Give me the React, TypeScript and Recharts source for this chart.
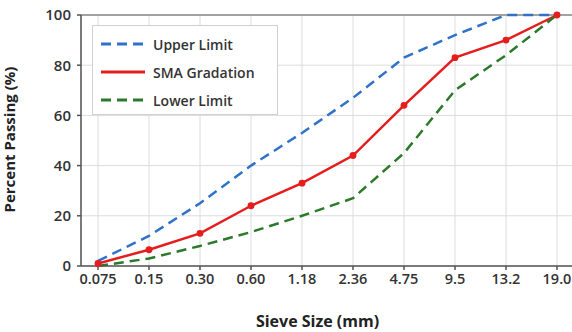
import React from "react";
import { LineChart, Line, XAxis, YAxis, CartesianGrid, Legend, ReferenceLine } from "recharts";

const sieveSizes = ["0.075", "0.15", "0.30", "0.60", "1.18", "2.36", "4.75", "9.5", "13.2", "19.0"];
const upperLimit = [2, 12, 25, 40, 53, 67, 83, 92, 100, 100];
const smaGradation = [1, 6.5, 13, 24, 33, 44, 64, 83, 90, 100];
const lowerLimit = [0, 3, 8, 13.5, 20, 27, 45, 70, 84, 100];
const yTicks = [0, 20, 40, 60, 80, 100];
const seriesOrder = ["Upper Limit", "SMA Gradation", "Lower Limit"];

const data = sieveSizes.map((s, i) => ({
  size: s,
  upper: upperLimit[i],
  sma: smaGradation[i],
  lower: lowerLimit[i],
}));

const FONT = "'Open Sans', sans-serif";

const renderLegend = (props: any) => {
  const payload = [...(props.payload || [])].sort(
    (a: any, b: any) => seriesOrder.indexOf(a.value) - seriesOrder.indexOf(b.value)
  );
  return (
    <div
      style={{
        border: "1px solid #d0d0d0",
        background: "#fff",
        padding: "4px 10px 4px 8px",
        boxSizing: "border-box",
        width: 186,
        height: 90,
        fontFamily: FONT,
      }}
    >
      {payload.map((p: any) => (
        <div key={p.value} style={{ display: "flex", alignItems: "center", height: 28 }}>
          <svg width={44} height={10} style={{ marginRight: 8 }}>
            <line
              x1={0}
              y1={5}
              x2={44}
              y2={5}
              stroke={p.color}
              strokeWidth={3}
              strokeDasharray={p.payload.strokeDasharray || undefined}
            />
          </svg>
          <span style={{ fontSize: 14, fontWeight: 600, color: "#333" }}>{p.value}</span>
        </div>
      ))}
    </div>
  );
};

export default function App() {
  return (
    <div style={{ position: "absolute", left: 0, top: 0, width: 572, height: 332, overflow: "hidden", background: "#fff" }}>
      <LineChart width={592} height={332} data={data} margin={{ top: 15, right: 18, bottom: 0, left: 0 }}>
        <CartesianGrid stroke="#dcdcdc" strokeWidth={1} />
        <XAxis
          dataKey="size"
          interval={0}
          padding={{ left: 17, right: 17 }}
          height={66}
          stroke="#555"
          strokeWidth={1.5}
          tickSize={4}
          tick={{ fill: "#333", fontSize: 14.5, fontFamily: FONT, fontWeight: 600 }}
          tickMargin={4}
          label={{ value: "Sieve Size (mm)", position: "insideBottom", offset: 5, fill: "#222", fontSize: 16, fontWeight: 700, fontFamily: FONT, dx: -10 }}
        />
        <YAxis
          domain={[0, 100]}
          ticks={yTicks}
          width={81}
          stroke="#555"
          strokeWidth={1.5}
          tickSize={4}
          tick={{ fill: "#333", fontSize: 15, fontFamily: FONT, fontWeight: 600 }}
          tickMargin={6}
          label={{ value: "Percent Passing (%)", angle: -90, position: "insideLeft", offset: 10, fill: "#222", fontSize: 15, fontWeight: 700, fontFamily: FONT, dy: 72 }}
        />
        <ReferenceLine y={100} stroke="#888" strokeWidth={1.5} />
        <Legend
          layout="vertical"
          verticalAlign="middle"
          align="center"
          wrapperStyle={{ left: 92, top: 25, width: 186 }}
          content={renderLegend}
        />
        <Line
          dataKey="upper"
          name="Upper Limit"
          stroke="#2f72c8"
          strokeWidth={2.5}
          strokeDasharray="10 6"
          dot={false}
          isAnimationActive={false}
        />
        <Line
          dataKey="sma"
          name="SMA Gradation"
          stroke="#e41e1e"
          strokeWidth={2.5}
          dot={{ r: 2.2, fill: "#e41e1e", stroke: "#e41e1e" }}
          isAnimationActive={false}
        />
        <Line
          dataKey="lower"
          name="Lower Limit"
          stroke="#2a7a2a"
          strokeWidth={2.5}
          strokeDasharray="10 6"
          dot={false}
          isAnimationActive={false}
        />
      </LineChart>
    </div>
  );
}
